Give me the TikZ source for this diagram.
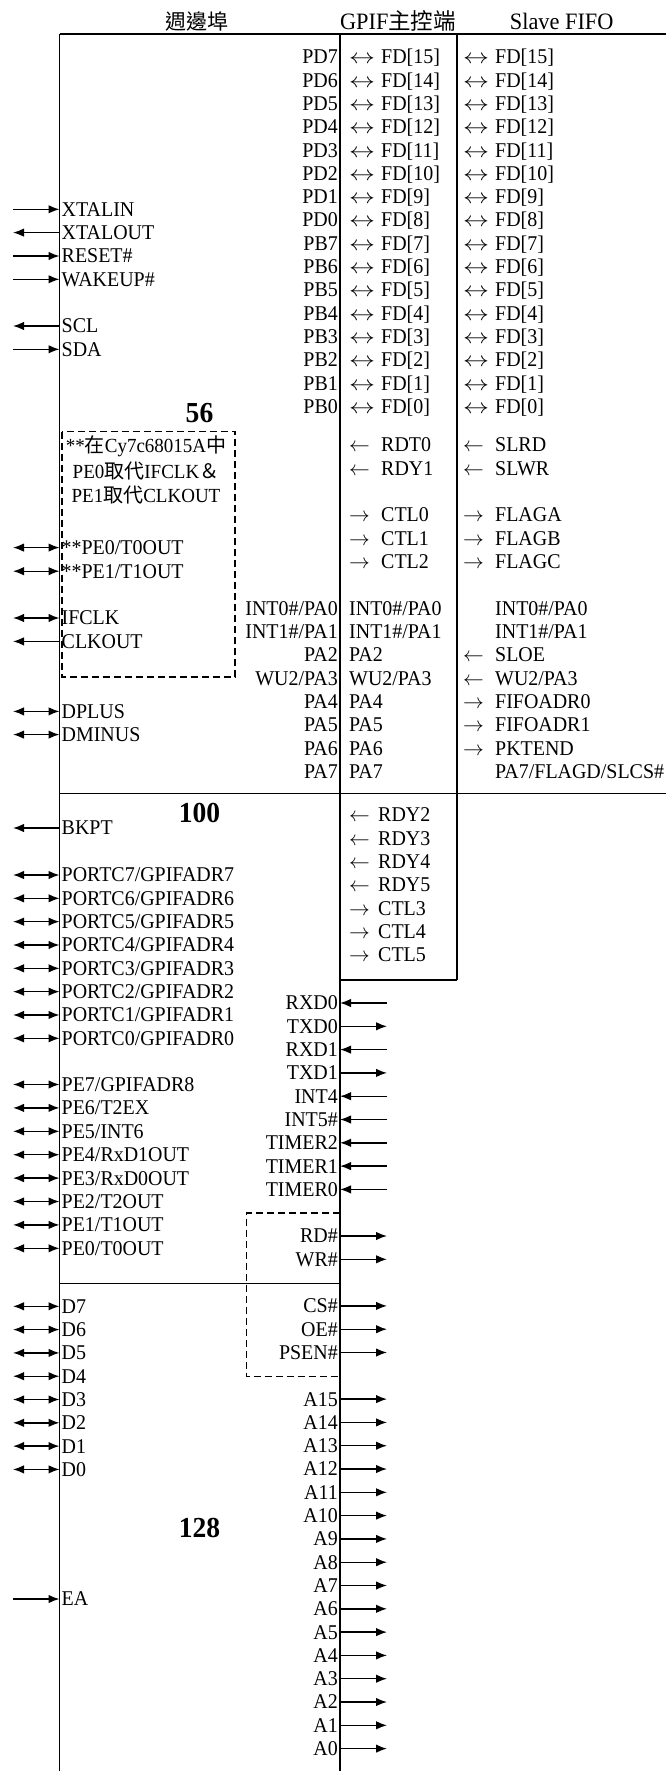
\documentclass[tikz,border=0pt]{standalone}
\usepackage{fontspec}
\setmainfont{Liberation Serif}[FakeStretch=0.95]
\newfontfamily\cjk{Noto Sans CJK TC}
\usetikzlibrary{arrows.meta}
\newcommand\ArrG[1]{\makebox[32pt][l]{#1}}
\newcommand\ArrN[1]{\makebox[29pt][l]{#1}}
\newcommand\BiA{\scalebox{1.25}[1]{$\leftrightarrow$}}
\newcommand\LeA{$\leftarrow$}
\newcommand\RiA{$\rightarrow$}
\newcommand\LPin[4]{%
  \node[lpin] (#1) at (59.5,#2) {#4};
  \coordinate (#1-e) at (13,#2);
  \draw[#3] (#1-e) -- (#1.west);}
\newcommand\RPin[4]{%
  \node[rpin] (#1) at (340,#2) {#4};
  \coordinate (#1-e) at (387,#2);
  \draw[#3] (#1-e) -- (#1.east);}
\tikzset{
  every node/.style={font=\fontsize{21}{25}\selectfont, inner ysep=0pt, inner xsep=2pt,
    text height=13.8pt, text depth=0pt},
  frame/.style={line width=1.4pt},
  dbox/.style={line width=1.2pt, dash pattern=on 7pt off 4pt},
  sigline/.style={line width=1.4pt},
  sigin/.style={sigline, -{Latex[length=11pt,width=8.5pt]}},
  sigout/.style={sigline, {Latex[length=11pt,width=8.5pt]}-},
  sigbi/.style={sigline, {Latex[length=11pt,width=8.5pt]}-{Latex[length=11pt,width=8.5pt]}},
  lpin/.style={anchor=west},
  rpin/.style={anchor=east},
  col/.style={anchor=west, inner xsep=0pt},
  hdr/.style={font=\fontsize{23.5}{27}\selectfont, anchor=base},
  num/.style={font=\fontsize{29}{33}\selectfont\bfseries, anchor=center, text height=19.6pt},
  note/.style={anchor=center},
}
\begin{document}
\begin{tikzpicture}[x=1pt,y=-1pt]
\useasboundingbox (0,0) rectangle (666,1771);
% frame lines
\draw[frame] (59.5,34) -- (666,34);
\draw[frame] (59.5,34) -- (59.5,1771);
\draw[frame] (340,34) -- (340,1771);
\draw[frame] (457,34) -- (457,980);
\draw[frame] (59.5,793.3) -- (666,793.3);
\draw[frame] (340,980) -- (457,980);
\draw[frame] (59.5,1283.5) -- (340,1283.5);
% dashed boxes
\draw[dbox] (62,431.7) rectangle (235,677);
\draw[dbox] (340,1213) -- (246.5,1213) -- (246.5,1376.5) -- (340,1376.5);
% headers
\node[hdr,font=\fontsize{21}{24}\selectfont] (h1) at (197,30) {\cjk 週邊埠};
\node[hdr] (h2) at (398,30) {GPIF{\cjk\fontsize{22.5}{26}\selectfont 主控端}};
\node[hdr] (h3) at (561.7,30) {Slave FIFO};
% section numbers
\node[num] (n56) at (199.5,412.5) {56};
\node[num] (n100) at (199.5,813) {100};
\node[num] (n128) at (199.5,1528) {128};
% note in dashed box
\node[note,font=\fontsize{20}{24}\selectfont] (t1) at (146,446) {**{\cjk 在}Cy7c68015A{\cjk 中}};
\node[note,font=\fontsize{20}{24}\selectfont] (t2) at (146,471.5) {PE0{\cjk 取代}IFCLK{\cjk ＆}};
\node[note,font=\fontsize{20}{24}\selectfont] (t3) at (146,496) {PE1{\cjk 取代}CLKOUT};
% data bus rows
\foreach \t [count=\i from 0] in {PD7,PD6,PD5,PD4,PD3,PD2,PD1,PD0,PB7,PB6,PB5,PB4,PB3,PB2,PB1,PB0} {
  \pgfmathtruncatemacro\n{15-\i}
  \node[rpin] (p\i) at (340,57+23.3*\i) {\t};
  \node[col] (m\i) at (349,57+23.3*\i) {\ArrG{\BiA}FD[\n]};
  \node[col] (s\i) at (463,57+23.3*\i) {\ArrG{\BiA}FD[\n]};
}
% control rows
\node[col] (mrdt0) at (349,445) {\ArrG{\LeA}RDT0};
\node[col] (sslrd) at (463,445) {\ArrG{\LeA}SLRD};
\node[col] (mrdy1) at (349,468.3) {\ArrG{\LeA}RDY1};
\node[col] (sslwr) at (463,468.3) {\ArrG{\LeA}SLWR};
\node[col] (mctl0) at (349,515) {\ArrG{\RiA}CTL0};
\node[col] (sflga) at (463,515) {\ArrG{\RiA}FLAGA};
\node[col] (mctl1) at (349,538.3) {\ArrG{\RiA}CTL1};
\node[col] (sflgb) at (463,538.3) {\ArrG{\RiA}FLAGB};
\node[col] (mctl2) at (349,561.7) {\ArrG{\RiA}CTL2};
\node[col] (sflgc) at (463,561.7) {\ArrG{\RiA}FLAGC};
% port A rows
\node[rpin] (lpa0) at (340,608.3) {INT0\#/PA0};
\node[col] (mpa0) at (349,608.3) {INT0\#/PA0};
\node[col] (spa0) at (463,608.3) {\ArrG{}INT0\#/PA0};
\node[rpin] (lpa1) at (340,631.7) {INT1\#/PA1};
\node[col] (mpa1) at (349,631.7) {INT1\#/PA1};
\node[col] (spa1) at (463,631.7) {\ArrG{}INT1\#/PA1};
\node[rpin] (lpa2) at (340,655) {PA2};
\node[col] (mpa2) at (349,655) {PA2};
\node[col] (spa2) at (463,655) {\ArrG{\LeA}SLOE};
\node[rpin] (lpa3) at (340,678.3) {WU2/PA3};
\node[col] (mpa3) at (349,678.3) {WU2/PA3};
\node[col] (spa3) at (463,678.3) {\ArrG{\LeA}WU2/PA3};
\node[rpin] (lpa4) at (340,701.7) {PA4};
\node[col] (mpa4) at (349,701.7) {PA4};
\node[col] (spa4) at (463,701.7) {\ArrG{\RiA}FIFOADR0};
\node[rpin] (lpa5) at (340,725) {PA5};
\node[col] (mpa5) at (349,725) {PA5};
\node[col] (spa5) at (463,725) {\ArrG{\RiA}FIFOADR1};
\node[rpin] (lpa6) at (340,748.3) {PA6};
\node[col] (mpa6) at (349,748.3) {PA6};
\node[col] (spa6) at (463,748.3) {\ArrG{\RiA}PKTEND};
\node[rpin] (lpa7) at (340,771.7) {PA7};
\node[col] (mpa7) at (349,771.7) {PA7};
\node[col] (spa7) at (463,771.7) {\ArrG{}PA7/FLAGD/SLCS\#};
% RDY / CTL extra
\node[col] (x0) at (349,815) {\ArrN{\LeA}RDY2};
\node[col] (x1) at (349,838.3) {\ArrN{\LeA}RDY3};
\node[col] (x2) at (349,861.7) {\ArrN{\LeA}RDY4};
\node[col] (x3) at (349,885) {\ArrN{\LeA}RDY5};
\node[col] (x4) at (349,908.3) {\ArrN{\RiA}CTL3};
\node[col] (x5) at (349,931.7) {\ArrN{\RiA}CTL4};
\node[col] (x6) at (349,955) {\ArrN{\RiA}CTL5};
% left pins
\LPin{xtalin}{209.3}{sigin}{XTALIN}
\LPin{xtalout}{232.6}{sigout}{XTALOUT}
\LPin{reset}{256}{sigin}{RESET\#}
\LPin{wakeup}{279.3}{sigin}{WAKEUP\#}
\LPin{scl}{326}{sigout}{SCL}
\LPin{sda}{349.3}{sigin}{SDA}
\LPin{pezero}{547.6}{sigbi}{**PE0/T0OUT}
\LPin{peone}{571.2}{sigbi}{**PE1/T1OUT}
\LPin{ifclk}{618}{sigbi}{IFCLK}
\LPin{clkout}{641.4}{sigout}{CLKOUT}
\LPin{dplus}{711.4}{sigbi}{DPLUS}
\LPin{dminus}{734.6}{sigbi}{DMINUS}
\LPin{bkpt}{828}{sigout}{BKPT}
\foreach \i in {0,...,7} {
  \pgfmathtruncatemacro\n{7-\i}
  \LPin{pc\i}{875+23.33*\i}{sigbi}{PORTC\n/GPIFADR\n}
}
\foreach \t [count=\i from 0] in {PE7/GPIFADR8,PE6/T2EX,PE5/INT6,PE4/RxD1OUT,PE3/RxD0OUT,PE2/T2OUT,PE1/T1OUT,PE0/T0OUT} {
  \LPin{pe\i}{1084.5+23.4*\i}{sigbi}{\t}
}
\foreach \i in {0,...,7} {
  \pgfmathtruncatemacro\n{7-\i}
  \LPin{d\i}{1306.3+23.3*\i}{sigbi}{D\n}
}
\LPin{ea}{1599}{sigin}{EA}
% right pins
\RPin{rxd0}{1003}{sigin}{RXD0}
\RPin{txd0}{1026.3}{sigout}{TXD0}
\RPin{rxd1}{1049.6}{sigin}{RXD1}
\RPin{txd1}{1072.9}{sigout}{TXD1}
\RPin{int4}{1096.2}{sigin}{INT4}
\RPin{int5}{1119.5}{sigin}{INT5\#}
\RPin{tmr2}{1142.8}{sigin}{TIMER2}
\RPin{tmr1}{1166.1}{sigin}{TIMER1}
\RPin{tmr0}{1189.4}{sigin}{TIMER0}
\RPin{rd}{1236}{sigout}{RD\#}
\RPin{wr}{1259.3}{sigout}{WR\#}
\RPin{cs}{1305.9}{sigout}{CS\#}
\RPin{oe}{1329.2}{sigout}{OE\#}
\RPin{psen}{1352.5}{sigout}{PSEN\#}
\foreach \i in {0,...,15} {
  \pgfmathtruncatemacro\n{15-\i}
  \RPin{a\n}{1399.1+23.3*\i}{sigout}{A\n}
}
\end{tikzpicture}
\end{document}
